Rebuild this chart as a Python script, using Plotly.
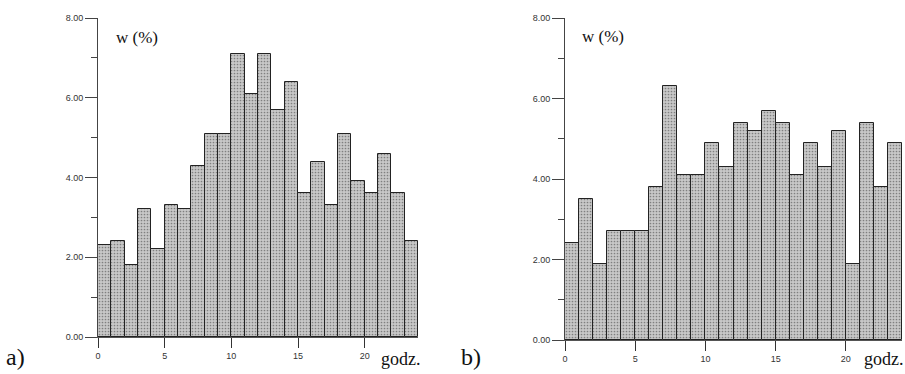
import plotly.graph_objects as go

hours = list(range(24))
values_a = [2.3, 2.4, 1.8, 3.2, 2.2, 3.3, 3.2, 4.3, 5.1, 5.1, 7.1, 6.1,
            7.1, 5.7, 6.4, 3.6, 4.4, 3.3, 5.1, 3.9, 3.6, 4.6, 3.6, 2.4]
values_b = [2.4, 3.5, 1.9, 2.7, 2.7, 2.7, 3.8, 6.3, 4.1, 4.1, 4.9, 4.3,
            5.4, 5.2, 5.7, 5.4, 4.1, 4.9, 4.3, 5.2, 1.9, 5.4, 3.8, 4.9]
y_ticks = [0, 2, 4, 6, 8]
x_ticks = [0, 5, 10, 15, 20]

W, H = 905, 374
bar_style = dict(
    color="#c4c4c4",
    line=dict(color="#222222", width=1),
    pattern=dict(shape=".", size=3, solidity=0.25, fgcolor="#808080",
                 bgcolor="#c8c8c8", fillmode="replace"),
)

fig = go.Figure()
fig.add_trace(go.Bar(x=[h + 0.5 for h in hours], y=values_a, width=1,
                     marker=bar_style, xaxis="x", yaxis="y", showlegend=False))
fig.add_trace(go.Bar(x=[h + 0.5 for h in hours], y=values_b, width=1,
                     marker=bar_style, xaxis="x2", yaxis="y2", showlegend=False))

tickfont = dict(family="Liberation Sans, Arial, sans-serif", size=9, color="#333333")

def xax(domain, anchor):
    return dict(domain=domain, anchor=anchor, range=[0, 24], tickmode="array",
                tickvals=x_ticks, ticktext=[str(v) for v in x_ticks],
                ticks="outside", ticklen=10, tickcolor="#333333", tickwidth=1,
                showline=True, linecolor="#555555", linewidth=1, automargin=False,
                showgrid=False, zeroline=False, tickfont=tickfont)

def yax(domain, anchor):
    return dict(domain=domain, anchor=anchor, range=[0, 8], tickmode="array",
                tickvals=y_ticks, ticktext=["%.2f" % v for v in y_ticks],
                ticks="outside", ticklen=12, tickcolor="#444444", tickwidth=1,
                minor=dict(tickmode="array", tickvals=[1, 3, 5, 7], ticks="outside",
                           ticklen=6, tickcolor="#444444", tickwidth=1),
                showline=True, linecolor="#444444", linewidth=1, automargin=False,
                showgrid=False, zeroline=False, tickfont=tickfont)

fig.update_layout(
    width=W, height=H,
    margin=dict(l=0, r=0, t=0, b=0),
    paper_bgcolor="white", plot_bgcolor="white",
    bargap=0,
    xaxis=xax([98 / W, 418 / W], "y"),
    yaxis=yax([(H - 337) / H, (H - 18) / H], "x"),
    xaxis2=xax([565 / W, 902 / W], "y2"),
    yaxis2=yax([(H - 340) / H, (H - 18) / H], "x2"),
)

serif = "Liberation Serif, Times New Roman, serif"
def txt(x, y, s, size, xanchor="left"):
    fig.add_annotation(x=x / W, y=1 - y / H, xref="paper", yref="paper", text=s,
                       showarrow=False, xanchor=xanchor, yanchor="middle",
                       font=dict(family=serif, size=size, color="#111111"))

txt(114, 38, "w (%)", 17)
txt(580, 37, "w (%)", 17)
txt(379, 359, "godz.", 18)
txt(862, 359, "godz.", 18)
txt(4, 357, "a)", 24)
txt(459, 357, "b)", 24)

fig.write_html("out.html", config={"displayModeBar": False},
               post_script="document.body.style.margin='0';document.body.style.overflow='hidden';")
